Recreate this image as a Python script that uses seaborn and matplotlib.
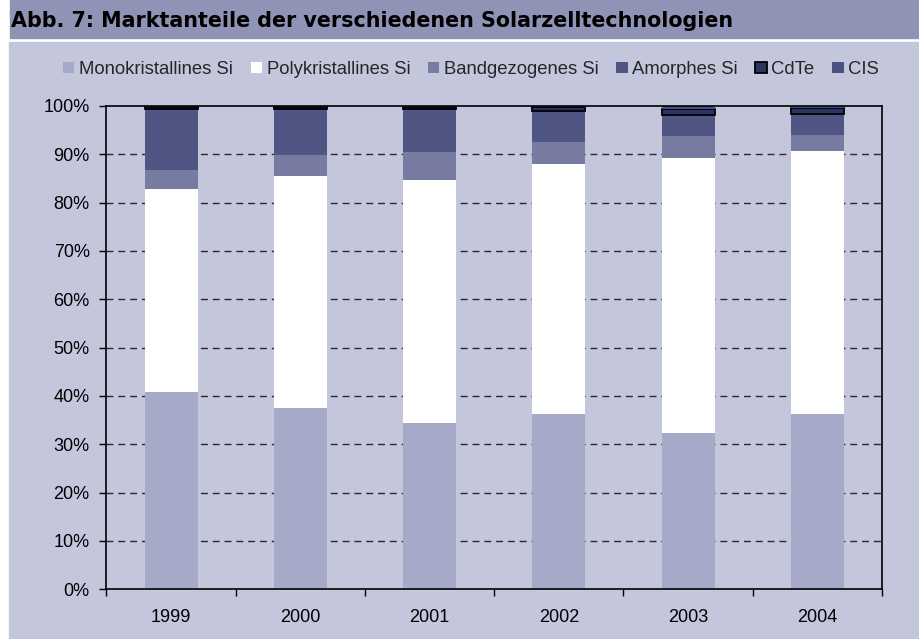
import matplotlib
matplotlib.use("Agg")
import matplotlib.pyplot as plt
import numpy as np
import seaborn as sns
from matplotlib.patches import Patch, Rectangle
from matplotlib.ticker import FixedLocator, MultipleLocator, PercentFormatter

# Marktanteile in Prozent (100%-gestapelt)
YEARS = ["1999", "2000", "2001", "2002", "2003", "2004"]
SERIES = ["Monokristallines Si", "Polykristallines Si", "Bandgezogenes Si",
          "Amorphes Si", "CdTe", "CIS"]

mono = [40.8, 37.5, 34.5, 36.3, 32.4, 36.3]
poly = [42.0, 48.0, 50.2, 51.7, 56.8, 54.4]
band = [4.0, 4.4, 5.8, 4.5, 4.6, 3.3]
amorph = [12.5, 9.4, 8.8, 6.5, 4.3, 4.4]
cdte = [0.4, 0.4, 0.4, 0.7, 1.3, 1.2]
cis = [0.3, 0.3, 0.3, 0.3, 0.6, 0.4]

COLORS = ["#a6a9c8", "#ffffff", "#777aa1", "#4f5683", "#2b3462", "#4b5283"]
BANNER = "#8f93b6"
CHART_BG = "#c4c6dc"

sns.set_style("ticks")
plt.rcParams["font.family"] = ["Liberation Sans", "DejaVu Sans"]

fig = plt.figure(figsize=(9.19, 6.39), dpi=100, facecolor="white")

# banner and chart area, behind the axes
fig.patches.append(Rectangle((10 / 919, 1 - 37.7 / 639), 1, 37.7 / 639,
                             transform=fig.transFigure, color=BANNER, zorder=-10))
fig.patches.append(Rectangle((9 / 919, 0), 1, 1 - 41.7 / 639,
                             transform=fig.transFigure, color=CHART_BG, zorder=-10))
fig.text(11 / 919, 1 - 27.3 / 639, "Abb. 7: Marktanteile der verschiedenen Solarzelltechnologien",
         fontsize=14.9, fontweight="bold", family=["DejaVu Sans"], color="black",
         va="baseline", ha="left")

ax = fig.add_axes([106.4 / 919, (639 - 589.3) / 639, (882 - 106.4) / 919, (589.3 - 106) / 639])
ax.set_facecolor("none")

data = np.array([mono, poly, band, amorph, cdte, cis], dtype=float)
data = data / data.sum(axis=0) * 100

bottom = np.zeros(len(YEARS))
for name, vals, color in zip(SERIES, data, COLORS):
    is_cdte = name == "CdTe"
    sns.barplot(x=YEARS, y=vals, bottom=bottom.copy(), color=color, saturation=1,
                width=0.41, edgecolor="black" if is_cdte else color,
                linewidth=1.3 if is_cdte else 0, ax=ax, zorder=3)
    bottom += vals

ax.set_xlim(-0.5, len(YEARS) - 0.5)
ax.set_ylim(0, 100)
ax.yaxis.set_major_locator(MultipleLocator(10))
ax.yaxis.set_major_formatter(PercentFormatter(decimals=0))
for y in range(10, 100, 10):
    ax.axhline(y, color="#2a2a2a", linewidth=1.0, linestyle=(0, (5, 3.5)), zorder=1)

for side in ["left", "right", "top", "bottom"]:
    ax.spines[side].set_visible(True)
    ax.spines[side].set_color("black")
    ax.spines[side].set_linewidth(1.2)
    ax.spines[side].set_zorder(4)

ax.xaxis.set_minor_locator(FixedLocator(np.arange(-0.5, len(YEARS), 1.0)))
ax.tick_params(axis="x", which="major", length=0, pad=14, labelsize=13, colors="black")
ax.tick_params(axis="x", which="minor", length=5, width=1, direction="out", color="black")
ax.tick_params(axis="y", length=5, width=1, direction="out", pad=7, labelsize=13,
               colors="black")
ax.set_xlabel("")
ax.set_ylabel("")

handles = []
for name, color in zip(SERIES, COLORS):
    if name == "CdTe":
        handles.append(Patch(facecolor=color, edgecolor="black", linewidth=1.3))
    else:
        handles.append(Patch(facecolor=color, edgecolor="none"))
fig.legend(handles, SERIES, loc="center", bbox_to_anchor=(471 / 919, 1 - 69.5 / 639),
           ncol=6, frameon=False, fontsize=13.3, handlelength=0.62, handleheight=0.62,
           handletextpad=0.25, columnspacing=0.95, borderaxespad=0)

fig.savefig("out.png", dpi=100, facecolor=fig.get_facecolor())
